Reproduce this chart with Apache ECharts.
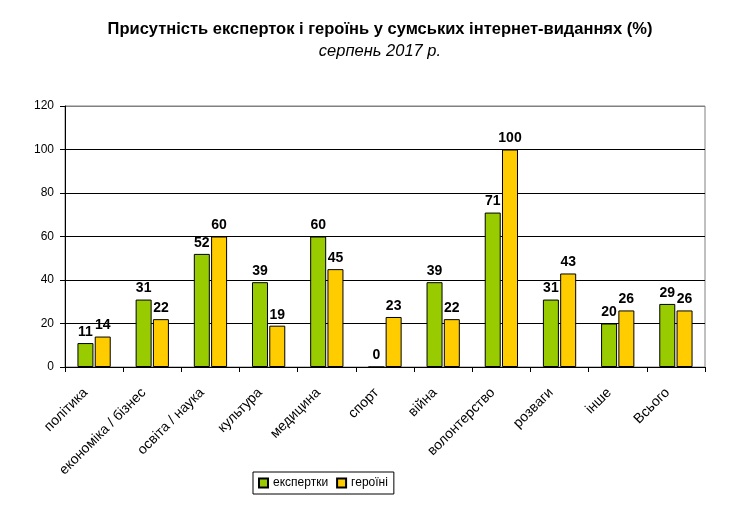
<!DOCTYPE html>
<html>
<head>
<meta charset="utf-8">
<script src="https://cdn.jsdelivr.net/npm/echarts@6/dist/echarts.min.js"></script>
<style>
	html, body { margin: 0; padding: 0; background: #fff; }
	#chart { width: 737px; height: 518px; }
</style>
</head>
<body>
<div id="chart"></div>
<script>
const categories = ['політика', 'економіка / бізнес', 'освіта / наука', 'культура', 'медицина', 'спорт', 'війна', 'волонтерство', 'розваги', 'інше', 'Всього'];
const ekspertky = [11, 31, 52, 39, 60, 0, 39, 71, 31, 20, 29];
const heroini = [14, 22, 60, 19, 45, 23, 22, 100, 43, 26, 26];

const FONT = '"Liberation Sans", Arial, sans-serif';

const chart = echarts.init(document.getElementById('chart'));

const barLabel = {
	show: true,
	position: 'top',
	distance: 4,
	color: '#000',
	fontFamily: FONT,
	fontWeight: 'bold',
	fontSize: 14
};

chart.setOption({
	animation: false,
	backgroundColor: '#fff',
	title: {
		text: 'Присутність експерток і героїнь у сумських інтернет-виданнях (%)',
		subtext: 'серпень 2017 р.',
		left: 375,
		textAlign: 'center',
		top: 16,
		itemGap: 5,
		textStyle: { fontFamily: FONT, fontWeight: 'bold', fontSize: 16.5, color: '#000' },
		subtextStyle: { fontFamily: FONT, fontStyle: 'italic', fontSize: 16.5, color: '#000' }
	},
	legend: {
		bottom: 24,
		left: 253,
		itemWidth: 9,
		itemHeight: 9,
		itemGap: 8,
		icon: 'rect',
		borderColor: '#000',
		borderWidth: 1,
		padding: [5, 6, 5, 5],
		textStyle: { fontFamily: FONT, fontSize: 12, color: '#000' },
		data: ['експертки', 'героїні']
	},
	grid: {
		left: 65,
		right: 32,
		top: 106,
		bottom: 151,
		show: true,
		borderColor: '#808080',
		borderWidth: 1
	},
	xAxis: {
		type: 'category',
		data: categories,
		axisLine: { lineStyle: { color: '#000', width: 1 } },
		axisTick: { show: true, length: 5, lineStyle: { color: '#000' } },
		axisLabel: {
			rotate: 45,
			interval: 0,
			margin: 15,
			padding: [0, 12, 0, 0],
			color: '#000',
			fontFamily: FONT,
			fontSize: 14
		}
	},
	yAxis: {
		type: 'value',
		min: 0,
		max: 120,
		interval: 20,
		axisLine: { show: true, lineStyle: { color: '#000', width: 1 } },
		axisTick: { show: true, length: 5, lineStyle: { color: '#000' } },
		axisLabel: { color: '#000', fontFamily: FONT, fontSize: 12, margin: 11 },
		splitLine: {
			lineStyle: {
				color: ['#000', '#000', '#000', '#000', '#000', '#000', '#808080'],
				width: 1
			}
		}
	},
	series: [
		{
			name: 'експертки',
			type: 'bar',
			data: ekspertky,
			barWidth: 16,
			barGap: '8%',
			itemStyle: { color: '#99cc00', borderColor: '#000', borderWidth: 1 },
			label: barLabel
		},
		{
			name: 'героїні',
			type: 'bar',
			data: heroini,
			barWidth: 16,
			itemStyle: { color: '#ffcc00', borderColor: '#000', borderWidth: 1 },
			label: barLabel
		}
	]
});
</script>
</body>
</html>
